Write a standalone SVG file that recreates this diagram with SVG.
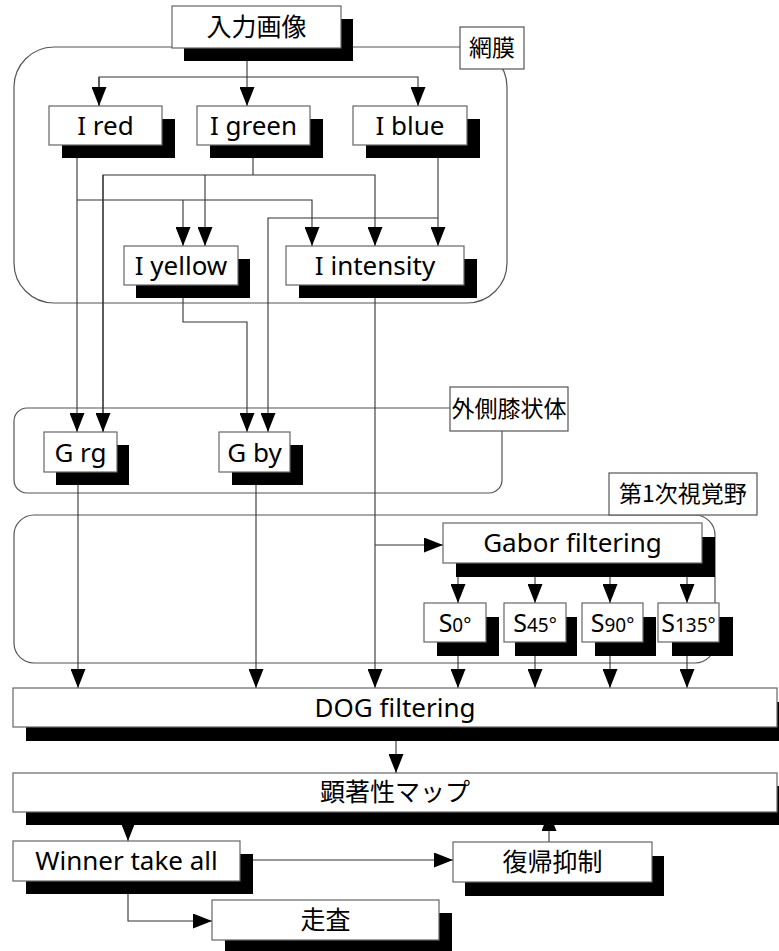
<svg xmlns="http://www.w3.org/2000/svg" width="779" height="951" viewBox="0 0 779 951">
<style>
.bg{fill:#fff}
.ct{fill:none;stroke:#555;stroke-width:1.2}
.bx{fill:#fff;stroke:#666;stroke-width:1.2}
.sh{fill:#000}
.lb{fill:#fff;stroke:#555;stroke-width:1.2}
.c{fill:none;stroke:#333;stroke-width:1.1}
.t{font-family:"Noto Sans","Noto Sans CJK JP",sans-serif;font-size:26px;text-anchor:middle;fill:#000}
.j{font-family:"Noto Sans CJK JP",sans-serif;font-size:25px;text-anchor:middle;fill:#000}
.l{font-family:"Noto Sans CJK JP",sans-serif;font-size:23px;text-anchor:middle;fill:#000}
</style>
<defs>
<marker id="a" markerUnits="userSpaceOnUse" markerWidth="19" markerHeight="15" refX="19" refY="7.5" orient="auto" viewBox="0 0 19 15">
<path d="M0,0 L19,7.5 L0,15 z" fill="#000"/>
</marker>
</defs>
<rect class="bg" x="0" y="0" width="779" height="951"/>

<g id="containers">
<g id="retina"><rect class="ct" x="14" y="47" width="493" height="256" rx="40"/></g>
<g id="lgn"><rect class="ct" x="14" y="408" width="488" height="85" rx="13"/></g>
<g id="v1"><rect class="ct" x="14" y="515" width="701" height="148" rx="20"/></g>
</g>

<g id="connectors">
<path class="c" d="M247,61 V106" marker-end="url(#a)"/>
<path class="c" d="M99,106 V77 H418 V106" marker-end="url(#a)"/>
<path class="c" d="M99,77 V106" marker-end="url(#a)"/>
<path class="c" d="M77,158 V432" marker-end="url(#a)" stroke="#000"/>
<path class="c" d="M77,200 H312 V246" marker-end="url(#a)"/>
<path class="c" d="M183,200 V246" marker-end="url(#a)"/>
<path class="c" d="M253,158 V175"/>
<path class="c" d="M103,432 V175 H375 V246" marker-end="url(#a)"/>
<path class="c" d="M103,175 V432" marker-end="url(#a)"/>
<path class="c" d="M205,175 V246" marker-end="url(#a)"/>
<path class="c" d="M438,158 V246" marker-end="url(#a)"/>
<path class="c" d="M438,218 H268 V432" marker-end="url(#a)"/>
<path class="c" d="M183,298 V322 H247 V432" marker-end="url(#a)"/>
<path class="c" d="M375,298 V688" marker-end="url(#a)"/>
<path class="c" d="M375,545 H443" marker-end="url(#a)"/>
<path class="c" d="M78,485 V688" marker-end="url(#a)"/>
<path class="c" d="M256,485 V688" marker-end="url(#a)"/>
<path class="c" d="M458,577 V603" marker-end="url(#a)"/>
<path class="c" d="M535,577 V603" marker-end="url(#a)"/>
<path class="c" d="M610,577 V603" marker-end="url(#a)"/>
<path class="c" d="M687,577 V603" marker-end="url(#a)"/>
<path class="c" d="M458,656 V688" marker-end="url(#a)"/>
<path class="c" d="M535,656 V688" marker-end="url(#a)"/>
<path class="c" d="M610,656 V688" marker-end="url(#a)"/>
<path class="c" d="M687,656 V688" marker-end="url(#a)"/>
<path class="c" d="M396,741 V773" marker-end="url(#a)"/>
<path class="c" d="M128,812 V841" marker-end="url(#a)"/>
<path class="c" d="M253,860 H453" marker-end="url(#a)"/>
<path class="c" d="M549,842 V812" marker-end="url(#a)"/>
<path class="c" d="M128,894 V921 H212" marker-end="url(#a)"/>
</g>

<g id="n-input"><rect class="sh" x="184" y="19" width="169" height="42"/><rect class="bx" x="172" y="6" width="169" height="42"/><text class="j" x="256.5" y="36">入力画像</text></g>
<g id="n-ired"><rect class="sh" x="62" y="119" width="113" height="39"/><rect class="bx" x="49" y="106" width="113" height="39"/><text class="t" x="105.5" y="135">I red</text></g>
<g id="n-igreen"><rect class="sh" x="210" y="119" width="113" height="39"/><rect class="bx" x="197" y="106" width="113" height="39"/><text class="t" x="253.5" y="135">I green</text></g>
<g id="n-iblue"><rect class="sh" x="366" y="119" width="114" height="39"/><rect class="bx" x="353" y="106" width="114" height="39"/><text class="t" x="410" y="135">I blue</text></g>
<g id="n-iyellow"><rect class="sh" x="136" y="259" width="114" height="39"/><rect class="bx" x="124" y="246" width="114" height="39"/><text class="t" x="181" y="275">I yellow</text></g>
<g id="n-iintensity"><rect class="sh" x="299" y="259" width="178" height="39"/><rect class="bx" x="286" y="246" width="178" height="39"/><text class="t" x="375" y="275">I intensity</text></g>
<g id="n-grg"><rect class="sh" x="56" y="445" width="73" height="40"/><rect class="bx" x="44" y="432" width="73" height="40"/><text class="t" x="80.5" y="461.5">G rg</text></g>
<g id="n-gby"><rect class="sh" x="232" y="445" width="71" height="40"/><rect class="bx" x="219" y="432" width="71" height="40"/><text class="t" x="254.5" y="461.5">G by</text></g>
<g id="n-gabor"><rect class="sh" x="456" y="537" width="259" height="40"/><rect class="bx" x="443" y="523" width="259" height="40"/><text class="t" x="572.5" y="552">Gabor filtering</text></g>
<g id="n-s0"><rect class="sh" x="437" y="617" width="62" height="39"/><rect class="bx" x="424" y="603" width="62" height="39"/><text class="t" x="455" y="632"><tspan font-size="25">S</tspan><tspan font-size="19">0°</tspan></text></g>
<g id="n-s45"><rect class="sh" x="515" y="617" width="62" height="39"/><rect class="bx" x="504" y="603" width="62" height="39"/><text class="t" x="535" y="632"><tspan font-size="25">S</tspan><tspan font-size="19">45°</tspan></text></g>
<g id="n-s90"><rect class="sh" x="595" y="617" width="61" height="39"/><rect class="bx" x="582" y="603" width="61" height="39"/><text class="t" x="612.5" y="632"><tspan font-size="25">S</tspan><tspan font-size="19">90°</tspan></text></g>
<g id="n-s135"><rect class="sh" x="672" y="617" width="61" height="39"/><rect class="bx" x="658" y="603" width="61" height="39"/><text class="t" x="688.5" y="632"><tspan font-size="25">S</tspan><tspan font-size="19">135°</tspan></text></g>
<g id="n-dog"><rect class="sh" x="26" y="702" width="764" height="39"/><rect class="bx" x="13" y="688" width="764" height="39"/><text class="t" x="395" y="717">DOG filtering</text></g>
<g id="n-saliency"><rect class="sh" x="26" y="786" width="764" height="39"/><rect class="bx" x="13" y="773" width="764" height="39"/><text class="j" x="395" y="801">顕著性マップ</text></g>
<g id="n-wta"><rect class="sh" x="26" y="854" width="227" height="40"/><rect class="bx" x="13" y="841" width="227" height="40"/><text class="t" x="126.5" y="870">Winner take all</text></g>
<g id="n-ior"><rect class="sh" x="465" y="856" width="199" height="40"/><rect class="bx" x="453" y="842" width="199" height="40"/><text class="j" x="552.5" y="871">復帰抑制</text></g>
<g id="n-scan"><rect class="sh" x="225" y="913" width="227" height="40"/><rect class="bx" x="212" y="900" width="227" height="40"/><text class="j" x="325.5" y="929">走査</text></g>

<g id="labels">
<g id="lbl-retina"><rect class="lb" x="460" y="27" width="64" height="42"/><text class="l" x="492" y="56">網膜</text></g>
<g id="lbl-lgn"><rect class="lb" x="450" y="387" width="118" height="44"/><text class="l" x="509" y="417">外側膝状体</text></g>
<g id="lbl-v1"><rect class="lb" x="609" y="473" width="148" height="42"/><text class="l" x="683" y="502">第1次視覚野</text></g>
</g>
</svg>
